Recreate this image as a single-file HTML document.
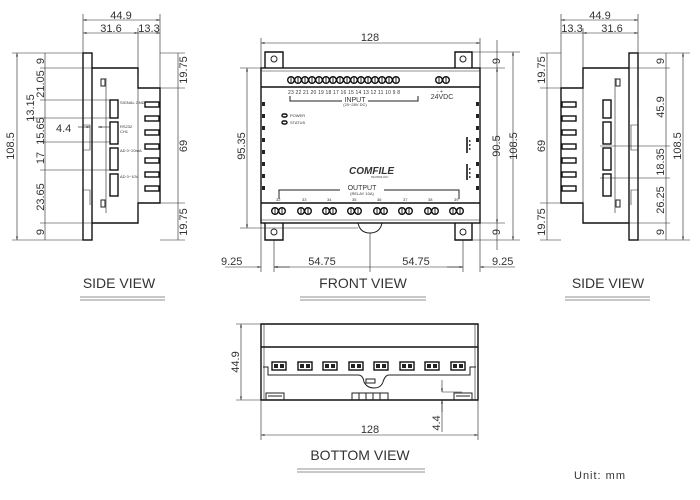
<!DOCTYPE html>
<html><head><style>
html,body{margin:0;padding:0;background:#fff;}
svg{display:block;font-family:"Liberation Sans",sans-serif;}
.l{stroke:#222;stroke-width:1;fill:none;}
.t{stroke:#222;stroke-width:0.6;fill:none;}
.b{stroke:#111;stroke-width:1.4;fill:none;}
text{fill:#333;font-size:11px;}
text.s{font-size:4px;fill:#333;}
</style></head><body>
<svg width="700" height="500" viewBox="0 0 700 500">
<defs>
<marker id="a" markerWidth="6" markerHeight="6" refX="6" refY="3" orient="auto-start-reverse"><path d="M0,1.5L6,3L0,4.5z" fill="#222"/></marker>
<g id="sv">
 <rect x="83" y="53" width="9" height="187" class="b"/>
 <path class="b" d="M92,68 H138 V88 H160 V203 H138 V223 H92"/>
 <path class="t" d="M83,110 V125 H90 V150 H83 M83,175 V190 H90 V205"/>
 <path class="t" d="M106,78 V213 M138,78 V213"/>
 <rect x="110" y="100" width="8" height="18" class="b"/>
 <rect x="110" y="122" width="8" height="22" class="b"/>
 <rect x="110" y="148" width="8" height="22" class="b"/>
 <rect x="110" y="174" width="8" height="22" class="b"/>
 <rect x="101" y="79" width="4" height="7" class="l"/>
 <rect x="101" y="200" width="4" height="7" class="l"/>
 <g class="b">
  <rect x="145" y="102" width="14" height="5"/><rect x="145" y="116" width="14" height="5"/>
  <rect x="145" y="130" width="14" height="5"/><rect x="145" y="144" width="14" height="5"/>
  <rect x="145" y="158" width="14" height="5"/><rect x="145" y="172" width="14" height="5"/>
  <rect x="145" y="186" width="14" height="5"/>
 </g>
</g>
<g id="tb"><circle cx="0" cy="0" r="3.3" class="b"/><line x1="0" y1="-3" x2="0" y2="3" class="l"/></g>
<g id="tp"><circle cx="0" cy="0" r="3.3" class="b"/><circle cx="7" cy="0" r="3.3" class="b"/><line x1="0" y1="-3" x2="0" y2="3" class="l"/><line x1="7" y1="-3" x2="7" y2="3" class="l"/></g>
<g id="bt"><rect x="0" y="0" width="14" height="8" class="b"/><rect x="2" y="2" width="4" height="4" fill="#222"/><rect x="8" y="2" width="4" height="4" fill="#222"/></g>
</defs>

<!-- LEFT SIDE VIEW -->
<use href="#sv"/>
<text class="s" x="120" y="104">SIGNAL GND</text>
<text class="s" x="120" y="128">RS232</text><text class="s" x="120" y="133">CH1</text>
<text class="s" x="120" y="152">AD 0~20mA</text>
<text class="s" x="120" y="178">AD 0~10V</text>
<g class="t">
 <line x1="83" y1="14" x2="83" y2="53"/><line x1="160" y1="14" x2="160" y2="88"/><line x1="138" y1="28" x2="138" y2="68"/>
 <line x1="83" y1="20" x2="160" y2="20" marker-start="url(#a)" marker-end="url(#a)"/>
 <line x1="83" y1="33" x2="138" y2="33" marker-start="url(#a)" marker-end="url(#a)"/>
 <line x1="138" y1="33" x2="160" y2="33" marker-end="url(#a)"/>
 <line x1="12" y1="53" x2="83" y2="53"/><line x1="12" y1="240" x2="83" y2="240"/>
 <line x1="17" y1="53" x2="17" y2="240" marker-start="url(#a)" marker-end="url(#a)"/>
 <line x1="45" y1="53" x2="45" y2="240"/>
 <line x1="40" y1="68" x2="92" y2="68"/><line x1="40" y1="100" x2="110" y2="100"/><line x1="30" y1="118" x2="110" y2="118"/>
 <line x1="40" y1="142" x2="110" y2="142"/><line x1="40" y1="170" x2="110" y2="170"/><line x1="40" y1="223" x2="92" y2="223"/>
 <line x1="78" y1="127" x2="90" y2="127" marker-end="url(#a)"/><line x1="110" y1="127" x2="98" y2="127" marker-end="url(#a)"/>
 <line x1="160" y1="53" x2="185" y2="53"/><line x1="160" y1="240" x2="185" y2="240"/>
 <line x1="160" y1="88" x2="185" y2="88"/><line x1="160" y1="203" x2="185" y2="203"/>
 <line x1="178" y1="53" x2="178" y2="240"/>
</g>
<text x="121" y="19" text-anchor="middle">44.9</text>
<text x="111" y="32" text-anchor="middle">31.6</text><text x="149" y="32" text-anchor="middle">13.3</text>
<text x="56" y="132">4.4</text>
<g>
<text transform="translate(14,146) rotate(-90)" text-anchor="middle">108.5</text>
<text transform="translate(44,61) rotate(-90)" text-anchor="middle">9</text>
<text transform="translate(44,84) rotate(-90)" text-anchor="middle">21.05</text>
<text transform="translate(34,108) rotate(-90)" text-anchor="middle">13.15</text>
<text transform="translate(44,131) rotate(-90)" text-anchor="middle">15.65</text>
<text transform="translate(44,158) rotate(-90)" text-anchor="middle">17</text>
<text transform="translate(44,197) rotate(-90)" text-anchor="middle">23.65</text>
<text transform="translate(44,232) rotate(-90)" text-anchor="middle">9</text>
<text transform="translate(187,70) rotate(-90)" text-anchor="middle">19.75</text>
<text transform="translate(187,146) rotate(-90)" text-anchor="middle">69</text>
<text transform="translate(187,222) rotate(-90)" text-anchor="middle">19.75</text>
</g>
<text x="119" y="288" text-anchor="middle" style="font-size:14px">SIDE VIEW</text>
<line x1="80" y1="297" x2="165" y2="297" class="t"/><line x1="80" y1="300" x2="165" y2="300" class="t"/>

<!-- RIGHT SIDE VIEW (mirrored) -->
<use href="#sv" transform="translate(721,0) scale(-1,1)"/>
<g class="t">
 <line x1="561" y1="14" x2="561" y2="88"/><line x1="638" y1="14" x2="638" y2="53"/><line x1="583" y1="28" x2="583" y2="68"/>
 <line x1="561" y1="20" x2="638" y2="20" marker-start="url(#a)" marker-end="url(#a)"/>
 <line x1="583" y1="33" x2="638" y2="33" marker-start="url(#a)" marker-end="url(#a)"/>
 <line x1="561" y1="33" x2="583" y2="33"/>
 <line x1="540" y1="53" x2="561" y2="53"/><line x1="540" y1="240" x2="561" y2="240"/>
 <line x1="540" y1="88" x2="561" y2="88"/><line x1="540" y1="203" x2="561" y2="203"/>
 <line x1="547" y1="53" x2="547" y2="240"/>
 <line x1="638" y1="53" x2="690" y2="53"/><line x1="638" y1="240" x2="690" y2="240"/>
 <line x1="620" y1="68" x2="670" y2="68"/><line x1="600" y1="146" x2="670" y2="146"/><line x1="600" y1="178" x2="670" y2="178"/><line x1="620" y1="223" x2="670" y2="223"/>
 <line x1="666" y1="53" x2="666" y2="240"/>
 <line x1="683" y1="53" x2="683" y2="240" marker-start="url(#a)" marker-end="url(#a)"/>
</g>
<text x="600" y="19" text-anchor="middle">44.9</text>
<text x="572" y="32" text-anchor="middle">13.3</text><text x="612" y="32" text-anchor="middle">31.6</text>
<g>
<text transform="translate(545,70) rotate(-90)" text-anchor="middle">19.75</text>
<text transform="translate(545,146) rotate(-90)" text-anchor="middle">69</text>
<text transform="translate(545,222) rotate(-90)" text-anchor="middle">19.75</text>
<text transform="translate(664,61) rotate(-90)" text-anchor="middle">9</text>
<text transform="translate(664,107) rotate(-90)" text-anchor="middle">45.9</text>
<text transform="translate(664,162) rotate(-90)" text-anchor="middle">18.35</text>
<text transform="translate(664,200) rotate(-90)" text-anchor="middle">26.25</text>
<text transform="translate(664,232) rotate(-90)" text-anchor="middle">9</text>
<text transform="translate(681,146) rotate(-90)" text-anchor="middle">108.5</text>
</g>
<text x="608" y="288" text-anchor="middle" style="font-size:14px">SIDE VIEW</text>
<line x1="565" y1="297" x2="650" y2="297" class="t"/><line x1="565" y1="300" x2="650" y2="300" class="t"/>

<!-- FRONT VIEW -->
<path class="b" d="M265,68 V52 H283 V68 M455,68 V52 H472 V68"/>
<path class="b" d="M265,223 V240 H283 V223 M455,223 V240 H472 V223"/>
<circle cx="274" cy="59" r="3" class="l"/><circle cx="463" cy="59" r="3" class="l"/>
<circle cx="274" cy="232" r="3" class="l"/><circle cx="463" cy="232" r="3" class="l"/>
<path class="l" d="M358,223 Q360,233 370,233 Q380,233 382,223"/>
<rect x="261" y="68" width="219" height="155" class="b"/>
<line x1="261" y1="87" x2="480" y2="87" class="b"/><line x1="261" y1="203" x2="480" y2="203" class="b"/>
<line x1="261" y1="71" x2="480" y2="71" class="t"/><line x1="261" y1="220" x2="480" y2="220" class="t"/>
<g>
<use href="#tb" x="291" y="80"/><use href="#tb" x="298" y="80"/><use href="#tb" x="305" y="80"/><use href="#tb" x="312" y="80"/><use href="#tb" x="319" y="80"/><use href="#tb" x="326" y="80"/><use href="#tb" x="333" y="80"/><use href="#tb" x="340" y="80"/><use href="#tb" x="347" y="80"/><use href="#tb" x="354" y="80"/><use href="#tb" x="361" y="80"/><use href="#tb" x="368" y="80"/><use href="#tb" x="375" y="80"/><use href="#tb" x="382" y="80"/><use href="#tb" x="389" y="80"/><use href="#tb" x="396" y="80"/><use href="#tb" x="439" y="80"/><use href="#tb" x="446" y="80"/>
</g>
<text class="s" x="288" y="94" style="font-size:5px" textLength="112" lengthAdjust="spacing">23 22 21 20 19 18 17 16 15 14 13 12 11 10 9 8</text>
<text class="s" x="437" y="93" style="font-size:5px">-   +</text>
<text x="442" y="99" text-anchor="middle" style="font-size:7px">24VDC</text>
<text x="355" y="102" text-anchor="middle" style="font-size:7px">INPUT</text>
<text class="s" x="355" y="106" text-anchor="middle">(20~28V DC)</text>
<path class="l" d="M290,96 V101 H342 M368,101 H418 V96"/>
<rect x="282" y="114" width="5" height="3" rx="1.5" class="b"/><text class="s" x="290" y="117">POWER</text>
<rect x="282" y="121" width="5" height="3" rx="1.5" class="b"/><text class="s" x="290" y="124">STATUS</text>
<g fill="#222"><rect x="262" y="102" width="3" height="4"/><rect x="262" y="114" width="3" height="4"/><rect x="262" y="126" width="3" height="4"/><rect x="262" y="138" width="3" height="4"/><rect x="262" y="150" width="3" height="4"/><rect x="262" y="162" width="3" height="4"/><rect x="262" y="174" width="3" height="4"/><rect x="262" y="186" width="3" height="4"/>
<rect x="476" y="102" width="3" height="4"/><rect x="476" y="114" width="3" height="4"/><rect x="476" y="126" width="3" height="4"/><rect x="476" y="138" width="3" height="4"/><rect x="476" y="162" width="3" height="4"/><rect x="476" y="174" width="3" height="4"/><rect x="476" y="186" width="3" height="4"/></g>
<g fill="#444"><rect x="466" y="137" width="2" height="16"/><rect x="469" y="140" width="1.5" height="2"/><rect x="469" y="144" width="1.5" height="2"/><rect x="469" y="148" width="1.5" height="2"/>
<rect x="466" y="164" width="2" height="16"/><rect x="469" y="168" width="1.5" height="2"/><rect x="469" y="172" width="1.5" height="2"/><rect x="469" y="176" width="1.5" height="2"/></g>
<text x="349" y="174" style="font-size:10px;font-weight:bold;font-style:italic" fill="#111">COMFILE</text>
<text x="371" y="178" style="font-size:2.5px" fill="#111">TECHNOLOGY</text>
<text x="362" y="190" text-anchor="middle" style="font-size:7px">OUTPUT</text>
<text class="s" x="362" y="195" text-anchor="middle">(RELAY 10A)</text>
<path class="l" d="M279,199 V190 H340 M384,190 H459 V199"/>
<text class="s" x="276" y="201">32</text><text class="s" x="302" y="201">33</text><text class="s" x="327" y="201">34</text><text class="s" x="352" y="201">35</text><text class="s" x="377" y="201">36</text><text class="s" x="403" y="201">37</text><text class="s" x="428" y="201">38</text><text class="s" x="454" y="201">39</text>
<use href="#tp" x="275" y="211"/><use href="#tp" x="301" y="211"/><use href="#tp" x="326" y="211"/><use href="#tp" x="351" y="211"/><use href="#tp" x="377" y="211"/><use href="#tp" x="402" y="211"/><use href="#tp" x="428" y="211"/><use href="#tp" x="453" y="211"/>
<g class="t">
 <line x1="261" y1="38" x2="261" y2="68"/><line x1="480" y1="38" x2="480" y2="68"/>
 <line x1="261" y1="43" x2="480" y2="43" marker-start="url(#a)" marker-end="url(#a)"/>
 <line x1="472" y1="52" x2="520" y2="52"/><line x1="480" y1="68" x2="505" y2="68"/><line x1="480" y1="223" x2="505" y2="223"/><line x1="472" y1="240" x2="520" y2="240"/>
 <line x1="497" y1="68" x2="497" y2="223" marker-start="url(#a)" marker-end="url(#a)"/>
 <line x1="513" y1="52" x2="513" y2="240" marker-start="url(#a)" marker-end="url(#a)"/>
 <line x1="497" y1="40" x2="497" y2="68"/><line x1="497" y1="223" x2="497" y2="250"/>
 <line x1="240" y1="68" x2="261" y2="68"/><line x1="240" y1="228" x2="358" y2="228"/>
 <line x1="247" y1="68" x2="247" y2="228" marker-start="url(#a)" marker-end="url(#a)"/>
 <line x1="261" y1="223" x2="261" y2="272"/><line x1="274" y1="240" x2="274" y2="272"/><line x1="370" y1="233" x2="370" y2="272"/><line x1="463" y1="240" x2="463" y2="272"/><line x1="480" y1="223" x2="480" y2="272"/>
 <line x1="225" y1="267" x2="261" y2="267" marker-end="url(#a)"/><line x1="290" y1="267" x2="274" y2="267" marker-end="url(#a)"/>
 <line x1="274" y1="267" x2="463" y2="267" marker-start="url(#a)" marker-end="url(#a)"/>
 <line x1="515" y1="267" x2="480" y2="267" marker-end="url(#a)"/><line x1="447" y1="267" x2="463" y2="267"/>
</g>
<text x="370" y="41" text-anchor="middle">128</text>
<text transform="translate(500,61) rotate(-90)" text-anchor="middle">9</text>
<text transform="translate(500,232) rotate(-90)" text-anchor="middle">9</text>
<text transform="translate(500,146) rotate(-90)" text-anchor="middle">90.5</text>
<text transform="translate(517,146) rotate(-90)" text-anchor="middle">108.5</text>
<text transform="translate(245,146) rotate(-90)" text-anchor="middle">95.35</text>
<text x="221" y="265">9.25</text><text x="322" y="265" text-anchor="middle">54.75</text><text x="416" y="265" text-anchor="middle">54.75</text><text x="492" y="265">9.25</text>
<text x="363" y="288" text-anchor="middle" style="font-size:14px">FRONT VIEW</text>
<line x1="300" y1="297" x2="426" y2="297" class="t"/><line x1="300" y1="300" x2="426" y2="300" class="t"/>

<!-- BOTTOM VIEW -->
<path class="b" d="M261,324 H478 V400 H261 Z"/>
<line x1="261" y1="347" x2="478" y2="347" class="b"/>
<line x1="264" y1="324" x2="264" y2="400" class="t"/><line x1="475" y1="324" x2="475" y2="400" class="t"/>
<path class="l" d="M263,367 H268 V375 H358 Q363,375 364,382 Q367,388 374,388 Q381,388 383,382 Q385,375 389,375 H470 V367 H476"/>
<rect x="366" y="379" width="9" height="4" class="l"/>
<use href="#bt" x="272" y="362"/><use href="#bt" x="298" y="362"/><use href="#bt" x="323" y="362"/><use href="#bt" x="349" y="362"/><use href="#bt" x="374" y="362"/><use href="#bt" x="400" y="362"/><use href="#bt" x="425" y="362"/><use href="#bt" x="451" y="362"/>
<path class="l" d="M266,400 V393 H284 V400 M268,396 H282 M454,400 V393 H472 V400 M456,396 H470"/>
<path class="l" d="M352,400 V393 H388 V400 M359,393 V400 M366,393 V400 M373,393 V400 M380,393 V400"/>
<g class="t">
 <line x1="236" y1="324" x2="261" y2="324"/><line x1="236" y1="400" x2="261" y2="400"/>
 <line x1="241" y1="324" x2="241" y2="400" marker-start="url(#a)" marker-end="url(#a)"/>
 <line x1="261" y1="400" x2="261" y2="440"/><line x1="478" y1="400" x2="478" y2="440"/>
 <line x1="261" y1="435" x2="478" y2="435" marker-start="url(#a)" marker-end="url(#a)"/>
 <line x1="442" y1="392" x2="462" y2="392"/>
 <line x1="442" y1="380" x2="442" y2="392" marker-end="url(#a)"/><line x1="442" y1="412" x2="442" y2="400" marker-end="url(#a)"/><line x1="442" y1="400" x2="442" y2="432"/>
</g>
<text transform="translate(239,362) rotate(-90)" text-anchor="middle">44.9</text>
<text transform="translate(440,423) rotate(-90)" text-anchor="middle">4.4</text>
<text x="370" y="433" text-anchor="middle">128</text>
<text x="360" y="460" text-anchor="middle" style="font-size:14px">BOTTOM VIEW</text>
<line x1="297" y1="469" x2="425" y2="469" class="t"/><line x1="297" y1="472" x2="425" y2="472" class="t"/>
<text x="600" y="479" text-anchor="middle" style="font-size:11px;letter-spacing:1px">Unit:  mm</text>
</svg>
</body></html>
